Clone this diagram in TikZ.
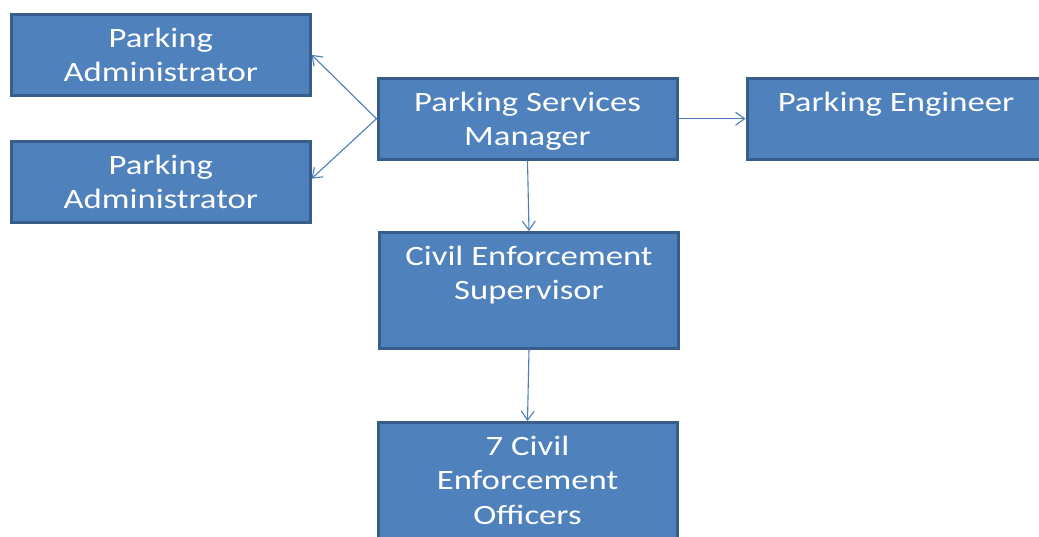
\documentclass[tikz,border=0pt]{standalone}
\usepackage{fontspec}
\setmainfont[FakeStretch=1.24]{Carlito}
\usetikzlibrary{arrows.meta,calc}
\definecolor{boxfill}{HTML}{4F81BD}
\definecolor{boxline}{HTML}{385D8A}
\definecolor{arrowc}{HTML}{4A7EBB}
\tikzset{
  orgbox/.style={draw=boxline, fill=boxfill, line width=3pt, rectangle, inner sep=0pt, outer sep=0pt, anchor=north west},
  boxtext/.style={text=white, font=\fontsize{28}{34.5}\selectfont, align=center, anchor=base, inner sep=0pt},
  link/.style={draw=arrowc, line width=1.1pt, -{Straight Barb[length=9pt,width=13pt,line width=1.1pt]}}
}
\begin{document}
\begin{tikzpicture}[x=1pt,y=-1pt]
\clip (0,0) rectangle (1039,536);
\fill[white] (0,0) rectangle (1039,536);
% boxes
\node[orgbox, minimum width=298.5pt, minimum height=80.5pt] (pa1) at (11.5,14.5) {};
\node[orgbox, minimum width=298.5pt, minimum height=80.5pt] (pa2) at (11.5,141.5) {};
\node[orgbox, minimum width=299pt, minimum height=80.5pt] (psm) at (378,78.5) {};
\node[orgbox, minimum width=298pt, minimum height=80.5pt] (pe) at (747,78.5) {};
\node[orgbox, minimum width=299pt, minimum height=115.5pt] (ces) at (379.5,232.5) {};
\node[orgbox, minimum width=299pt, minimum height=130pt] (ceo) at (378,422.5) {};
% texts (anchor base = baseline of last line)
\node[boxtext] (t1) at ($(pa1.north)+(0,67)$) {Parking\\Administrator};
\node[boxtext] (t2) at ($(pa2.north)+(0,67)$) {Parking\\Administrator};
\node[boxtext] (t3) at ($(psm.north)+(0,67)$) {Parking Services\\Manager};
\node[boxtext] (t4) at ($(pe.north)+(0,32.5)$) {Parking Engineer};
\node[boxtext] (t5) at ($(ces.north)+(0,67)$) {Civil Enforcement\\Supervisor};
\node[boxtext] (t6) at ($(ceo.north)+(0,101.5)$) {7 Civil\\Enforcement\\Officers};
% connectors
\draw[link] ([xshift=-1.5pt]psm.west) -- ([xshift=1.5pt]pa1.east);
\draw[link] ([xshift=-1.5pt]psm.west) -- ([xshift=1.5pt,yshift=3pt]pa2.east);
\draw[link] ([xshift=1.5pt]psm.east) -- ([xshift=-1.5pt]pe.west |- psm.east);
\draw[link] ([yshift=-1.5pt]psm.south) -- ([yshift=1.5pt]ces.north);
\draw[link] ([yshift=-1.5pt]ces.south) -- ([yshift=1.5pt]ceo.north);
\end{tikzpicture}
\end{document}
